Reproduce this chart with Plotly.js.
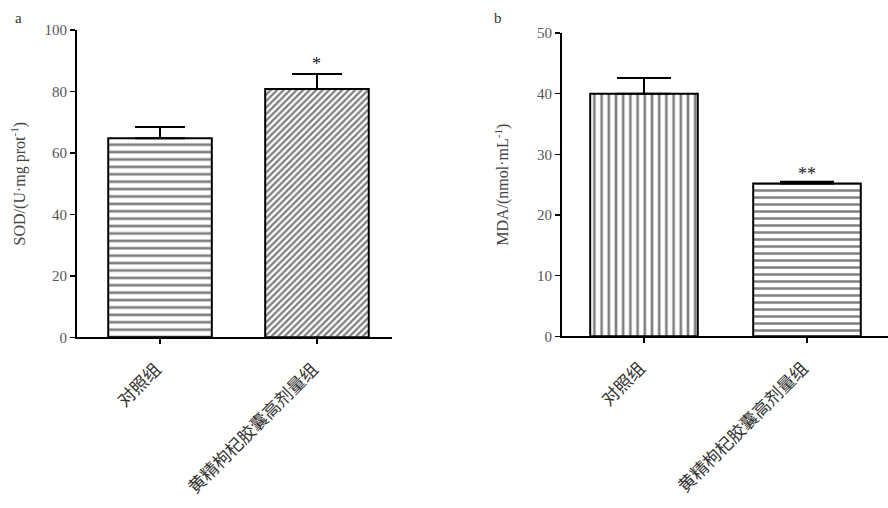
<!DOCTYPE html>
<html>
<head>
<meta charset="utf-8">
<script src="https://cdn.plot.ly/plotly-3.0.1.min.js"></script>
<style>html,body{margin:0;padding:0;background:#fff;}#chart{width:888px;height:508px;}</style>
</head>
<body>
<div id="chart"></div>
<script>
const categories = ['对照组', '黄精枸杞胶囊高剂量组'];
const sodMean = [64.8, 80.8];
const sodErr = [3.6, 4.9];
const sodSig = ['', '*'];
const mdaMean = [40.0, 25.2];
const mdaErr = [2.6, 0.3];
const mdaSig = ['', '**'];
const sodTicks = [0, 20, 40, 60, 80, 100];
const mdaTicks = [0, 10, 20, 30, 40, 50];

const serif = 'Liberation Serif, Times New Roman, serif';
const cjk = 'Noto Sans CJK SC, sans-serif';

const traces = [
  {
    type: 'bar', x: categories, y: sodMean, xaxis: 'x', yaxis: 'y', width: 0.66,
    marker: {
      color: '#ffffff',
      line: {color: '#000', width: 2},
      pattern: {shape: ['-', '/'], size: [7.4, 4.6], solidity: [0.36, 0.5], fgcolor: '#000', bgcolor: '#fff', fillmode: 'overlay'}
    },
    error_y: {type: 'data', symmetric: false, array: sodErr, arrayminus: [0, 0], color: '#000', thickness: 2, width: 25},
    hoverinfo: 'skip', showlegend: false
  },
  {
    type: 'bar', x: categories, y: mdaMean, xaxis: 'x2', yaxis: 'y2', width: 0.66,
    marker: {
      color: '#ffffff',
      line: {color: '#000', width: 2},
      pattern: {shape: ['|', '-'], size: [7.2, 7], solidity: [0.36, 0.36], fgcolor: '#000', bgcolor: '#fff', fillmode: 'overlay'}
    },
    error_y: {type: 'data', symmetric: false, array: mdaErr, arrayminus: [0, 0], color: '#000', thickness: 2, width: 27},
    hoverinfo: 'skip', showlegend: false
  }
];

const annotations = [];
categories.forEach((c, i) => {
  if (sodSig[i]) annotations.push({xref: 'x', yref: 'y', x: c, y: sodMean[i] + sodErr[i], text: sodSig[i], showarrow: false, yanchor: 'bottom', yshift: -2, font: {family: serif, size: 18, color: '#222'}});
  if (mdaSig[i]) annotations.push({xref: 'x2', yref: 'y2', x: c, y: mdaMean[i] + mdaErr[i], text: mdaSig[i], showarrow: false, yanchor: 'bottom', yshift: -4, font: {family: serif, size: 18, color: '#222'}});
});
annotations.push({xref: 'paper', yref: 'paper', x: 18 / 888, y: 1 - 18 / 508, text: 'a', showarrow: false, xanchor: 'center', yanchor: 'middle', font: {family: serif, size: 15, color: '#333'}});
annotations.push({xref: 'paper', yref: 'paper', x: 498 / 888, y: 1 - 18 / 508, text: 'b', showarrow: false, xanchor: 'center', yanchor: 'middle', font: {family: serif, size: 15, color: '#333'}});

const xCommon = {
  type: 'category', showline: true, linecolor: '#000', linewidth: 2, ticks: 'outside', ticklen: 5, tickwidth: 1.5, tickcolor: '#000',
  tickangle: -45, ticklabelstandoff: 8, ticklabelshift: -4,
  tickfont: {family: cjk, size: 17.5, color: '#333'}, showgrid: false, zeroline: false, fixedrange: true
};
const yCommon = {
  showline: true, linecolor: '#000', linewidth: 2, ticks: 'outside', ticklen: 5, tickwidth: 1.5, tickcolor: '#000',
  tickfont: {family: serif, size: 15, color: '#555'}, showgrid: false, zeroline: false, fixedrange: true
};

const layout = {
  width: 888, height: 508,
  margin: {l: 0, r: 0, t: 0, b: 0},
  paper_bgcolor: '#fff', plot_bgcolor: '#fff',
  bargap: 0.34,
  xaxis: Object.assign({}, xCommon, {domain: [77 / 888, 392 / 888], range: [-0.529, 1.478], anchor: 'y'}),
  yaxis: Object.assign({}, yCommon, {domain: [0.336, 0.941], range: [0, 100], tickvals: sodTicks, anchor: 'x',
    title: {text: 'SOD/(U·mg prot<sup>-1</sup>)', standoff: 15, font: {family: serif, size: 16, color: '#444'}}}),
  xaxis2: Object.assign({}, xCommon, {domain: [562 / 888, 1], range: [-0.503, 1.497], anchor: 'y2'}),
  yaxis2: Object.assign({}, yCommon, {domain: [0.338, 0.935], range: [0, 50], tickvals: mdaTicks, anchor: 'x2',
    title: {text: 'MDA/(nmol·mL<sup>-1</sup>)', standoff: 24, font: {family: serif, size: 16, color: '#444'}}}),
  annotations: annotations
};

Plotly.newPlot('chart', traces, layout, {displayModeBar: false, staticPlot: true});
</script>
</body>
</html>
